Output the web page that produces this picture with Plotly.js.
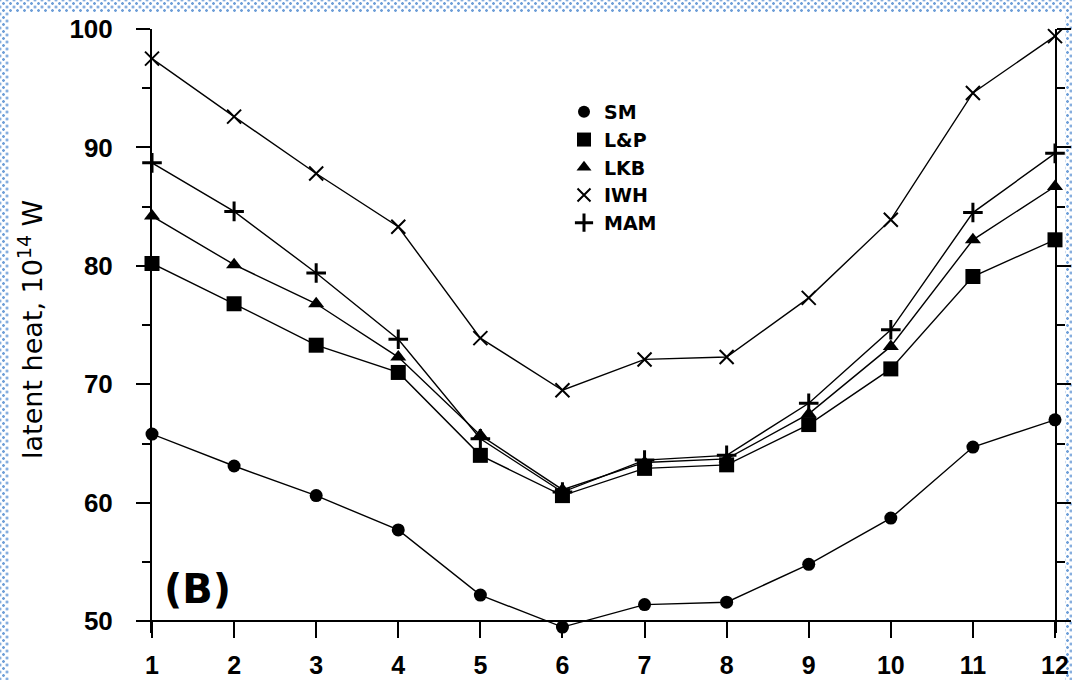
<!DOCTYPE html>
<html>
<head>
<meta charset="utf-8">
<script src="https://cdn.plot.ly/plotly-3.0.1.min.js"></script>
<style>
  html, body { margin: 0; padding: 0; }
  body {
    width: 1072px; height: 680px; overflow: hidden; position: relative;
    background-color: #ffffff;
    background-image:
      radial-gradient(circle, #6f9fd8 1.1px, rgba(255,255,255,0) 1.6px),
      radial-gradient(circle, #6f9fd8 1.1px, rgba(255,255,255,0) 1.6px);
    background-size: 7px 7px, 7px 7px;
    background-position: 0px 0px, 3.5px 3.5px;
  }
  #paper { position: absolute; left: 9px; top: 12px; width: 1056px; height: 668px; background: #ffffff; }
  #chart { position: absolute; left: 0; top: 0; width: 1072px; height: 680px; }
</style>
</head>
<body>
<div id="paper"></div>
<div id="chart"></div>
<script>
// ---- data ----
var months = [1, 2, 3, 4, 5, 6, 7, 8, 9, 10, 11, 12];
var seriesNames = ["SM", "L&P", "LKB", "IWH", "MAM"];
var SM  = [65.8, 63.1, 60.6, 57.7, 52.2, 49.5, 51.4, 51.6, 54.8, 58.7, 64.7, 67.0];
var LP  = [80.2, 76.8, 73.3, 71.0, 64.0, 60.6, 62.9, 63.2, 66.6, 71.3, 79.1, 82.2];
var LKB = [84.2, 80.1, 76.8, 72.3, 65.7, 61.1, 63.4, 63.7, 67.5, 73.2, 82.2, 86.7];
var IWH = [97.5, 92.6, 87.8, 83.3, 73.9, 69.5, 72.1, 72.3, 77.3, 83.9, 94.6, 99.4];
var MAM = [88.7, 84.6, 79.4, 73.8, 65.4, 60.9, 63.6, 64.0, 68.4, 74.6, 84.5, 89.5];
var yTicks = [50, 60, 70, 80, 90, 100];
var yMinorTicks = [55, 65, 75, 85, 95];
var xTicks = months;

var seriesData = [SM, LP, LKB, IWH, MAM];
var symbols = ["circle", "square", "triangle-up", "x-thin-open", "cross-thin-open"];
var sizes = [13, 15, 14, 14, 14];
var lineW = [0, 0, 0, 2, 3];

var yMin = 49, yMax = 100, yBase = 50;

var traces = [];
for (var i = 0; i < seriesData.length; i++) {
  traces.push({
    x: months, y: seriesData[i], type: "scatter", mode: "lines+markers",
    name: seriesNames[i], showlegend: false, cliponaxis: false,
    line: {color: "#000000", width: 1.4},
    marker: {symbol: symbols[i], size: sizes[i], color: "#000000",
             line: {color: "#000000", width: lineW[i]}}
  });
}
// legend-only entries (markers only)
for (var j = 0; j < seriesData.length; j++) {
  traces.push({
    x: [null], y: [null], type: "scatter", mode: "markers",
    name: seriesNames[j], showlegend: true,
    marker: {symbol: symbols[j], size: sizes[j] - 1, color: "#000000",
             line: {color: "#000000", width: lineW[j]}}
  });
}

var H = 680, T = 29, B = 47;
var plotH = H - T - B;
function pyToPaper(py) { return 1 - (py - T) / plotH; }

var layout = {
  width: 1072, height: 680,
  margin: {l: 152, r: 17, t: T, b: B, pad: 0},
  paper_bgcolor: "rgba(0,0,0,0)",
  plot_bgcolor: "rgba(0,0,0,0)",
  showlegend: true,
  legend: {
    x: (564 - 152) / 903, y: pyToPaper(93), xanchor: "left", yanchor: "top",
    bgcolor: "rgba(0,0,0,0)", borderwidth: 0,
    font: {family: "DejaVu Sans", size: 19, color: "#000000", weight: "bold"},
    itemwidth: 30, tracegroupgap: 0
  },
  xaxis: {
    range: [1, 12], tickmode: "array", tickvals: xTicks, ticktext: xTicks.map(String),
    anchor: "free", position: (yBase - yMin) / (yMax - yMin),
    showline: true, linecolor: "#000000", linewidth: 2, mirror: "ticks",
    ticks: "outside", ticklen: 16, tickwidth: 2, tickcolor: "#000000",
    showgrid: false, zeroline: false, ticklabelstandoff: 6, layer: "below traces",
    tickfont: {family: "Liberation Sans", size: 25, color: "#000000", weight: "bold"}
  },
  yaxis: {
    range: [yMin, yMax], tickmode: "array", tickvals: yTicks, ticktext: yTicks.map(String),
    showline: true, linecolor: "#000000", linewidth: 2, mirror: "ticks",
    ticks: "outside", ticklen: 14, tickwidth: 2, tickcolor: "#000000",
    showgrid: false, zeroline: false, ticklabelstandoff: 18, layer: "below traces",
    tickfont: {family: "Liberation Sans", size: 26, color: "#000000", weight: "bold"}
  },
  yaxis2: {
    range: [yMin, yMax], overlaying: "y", anchor: "x", side: "left",
    tickmode: "array", tickvals: yMinorTicks, showticklabels: false,
    showline: true, linecolor: "#000000", linewidth: 2, mirror: "ticks",
    ticks: "outside", ticklen: 8, tickwidth: 2, tickcolor: "#000000",
    showgrid: false, zeroline: false, layer: "below traces"
  },
  annotations: [
    {
      xref: "paper", yref: "paper", x: (30 - 152) / 903, y: pyToPaper(330),
      xanchor: "center", yanchor: "middle", textangle: -90, showarrow: false,
      text: "latent heat, 10<sup>14</sup> W",
      font: {family: "DejaVu Sans", size: 27, color: "#000000"}
    },
    {
      xref: "paper", yref: "paper", x: (162 - 152) / 903, y: pyToPaper(589),
      xanchor: "left", yanchor: "middle", showarrow: false,
      text: "(B)",
      font: {family: "DejaVu Sans", size: 40, color: "#000000", weight: "bold"}
    }
  ]
};

// invisible helper trace so the overlay minor-tick axis is drawn
traces.push({x: [null], y: [null], yaxis: "y2", type: "scatter", mode: "markers", showlegend: false, hoverinfo: "skip"});

Plotly.newPlot("chart", traces, layout, {staticPlot: true, displayModeBar: false});
</script>
</body>
</html>
